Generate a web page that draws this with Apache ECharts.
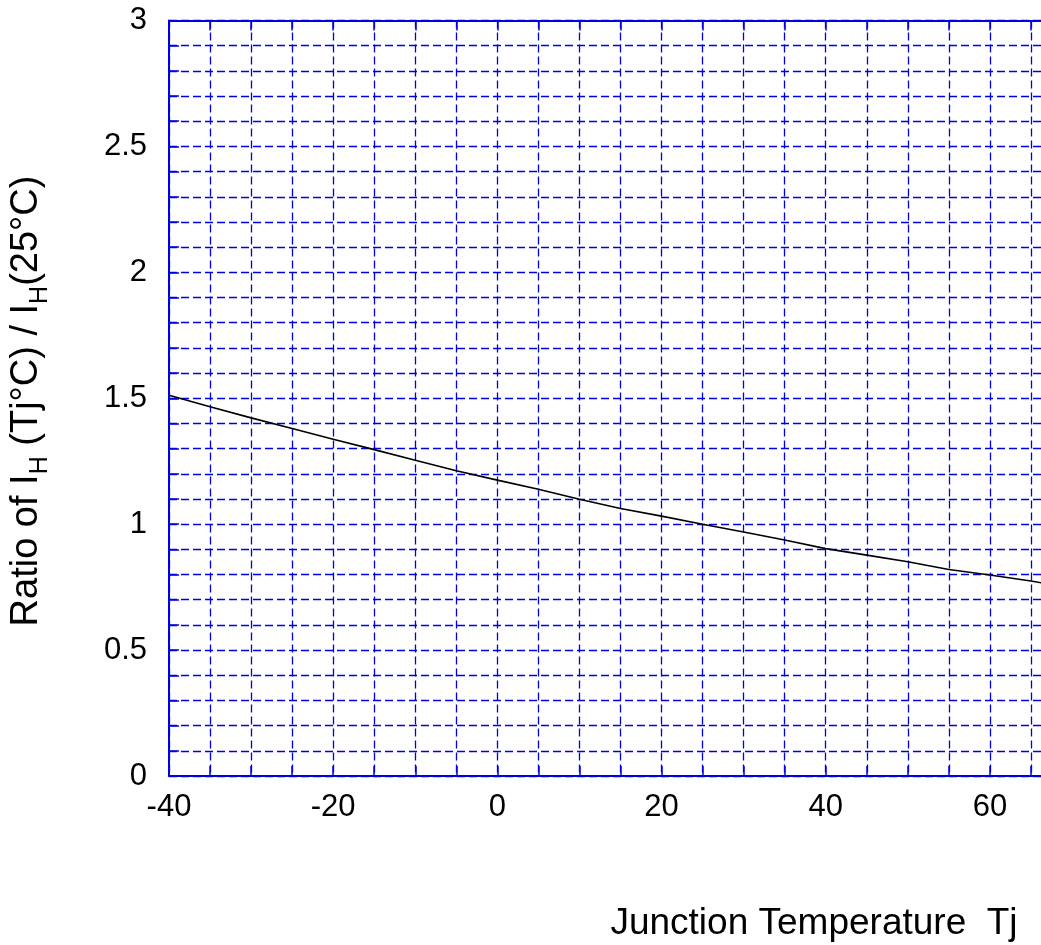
<!DOCTYPE html>
<html>
<head>
<meta charset="utf-8">
<script src="https://cdn.jsdelivr.net/npm/echarts@6/dist/echarts.min.js"></script>
<style>
html,body{margin:0;padding:0;background:#fff;}
#chart{width:1041px;height:945px;}
</style>
</head>
<body>
<div id="chart"></div>
<script>
// Junction temperature (°C)
const temps = [-40, -35, -30, -25, -20, -15, -10, -5, 0, 5, 10, 15, 20, 25, 30, 35, 40, 45, 50, 55, 60, 65, 67.2];
// Ratio of IH(Tj) / IH(25°C)
const ratios = [1.512, 1.466, 1.422, 1.380, 1.337, 1.296, 1.254, 1.212, 1.175, 1.139, 1.099, 1.062, 1.032, 1.000, 0.969, 0.937, 0.903, 0.877, 0.851, 0.820, 0.798, 0.774, 0.762];
const xTickLabels = [-40, -20, 0, 20, 40, 60];
const yTickLabels = [0, 0.5, 1, 1.5, 2, 2.5, 3];
const xTitle = 'Junction Temperature  Tj';
const yTitleRich = 'Ratio of I{s|H} (Tj°C) / I{s|H}(25°C)';

const FONT = '"Liberation Sans", Arial, sans-serif';
const BLUE = '#0000e6';
const chart = echarts.init(document.getElementById('chart'), null, {renderer: 'canvas'});

const grid = {left: 169, top: 20.5, width: 880, height: 755.5, show: false, containLabel: false, outerBoundsMode: 'none'};
const X_MIN = -40, X_MAX = 67.2;

const option = {
  animation: false,
  backgroundColor: '#fff',
  grid: grid,
  xAxis: [
    {
      type: 'value', min: X_MIN, max: X_MAX, interval: 5, position: 'bottom',
      axisLine: {show: true, onZero: false, lineStyle: {color: BLUE, width: 2}},
      axisTick: {show: true, inside: true, length: 10, lineStyle: {color: BLUE, width: 1.5}},
      axisLabel: {
        show: true, margin: 16, fontSize: 31, fontFamily: FONT, color: '#000',
        formatter: v => (xTickLabels.indexOf(v) >= 0 ? String(v) : '')
      },
      splitLine: {show: true, lineStyle: {color: BLUE, width: 1.3, type: [8, 4]}}
    },
    {
      type: 'value', min: X_MIN, max: X_MAX, interval: 5, position: 'top',
      axisLine: {show: true, onZero: false, lineStyle: {color: BLUE, width: 2}},
      axisTick: {show: true, inside: true, length: 10, lineStyle: {color: BLUE, width: 1.5}},
      axisLabel: {show: false},
      splitLine: {show: false}
    }
  ],
  yAxis: [
    {
      type: 'value', min: 0, max: 3, interval: 0.1, position: 'left',
      axisLine: {show: true, onZero: false, lineStyle: {color: BLUE, width: 2}},
      axisTick: {show: true, inside: true, length: 10, lineStyle: {color: BLUE, width: 1.5}},
      axisLabel: {
        show: true, margin: 22, fontSize: 31, fontFamily: FONT, color: '#000',
        formatter: v => {
          const r = Math.round(v * 10) / 10;
          return yTickLabels.indexOf(r) >= 0 ? String(r) : '';
        }
      },
      splitLine: {show: true, lineStyle: {color: BLUE, width: 1.3, type: [8, 4]}}
    }
  ],
  series: [
    {
      type: 'line',
      data: temps.map((t, i) => [t, ratios[i]]),
      showSymbol: false,
      symbol: 'none',
      lineStyle: {color: '#000', width: 1.6},
      clip: true,
      z: 5
    }
  ],
  graphic: [
    {
      type: 'text',
      x: 814, y: 924,
      style: {text: xTitle, font: '37px ' + FONT, fill: '#000', align: 'center', verticalAlign: 'middle'}
    },
    {
      type: 'text',
      x: 27, y: 401,
      rotation: Math.PI / 2,
      style: {
        text: yTitleRich,
        fill: '#000',
        align: 'center',
        verticalAlign: 'middle',
        fontSize: 38,
        fontFamily: FONT,
        lineHeight: 52,
        rich: {
          s: {fontSize: 25, fontFamily: FONT, verticalAlign: 'bottom', lineHeight: 25}
        }
      }
    }
  ]
};
chart.setOption(option);
</script>
</body>
</html>
